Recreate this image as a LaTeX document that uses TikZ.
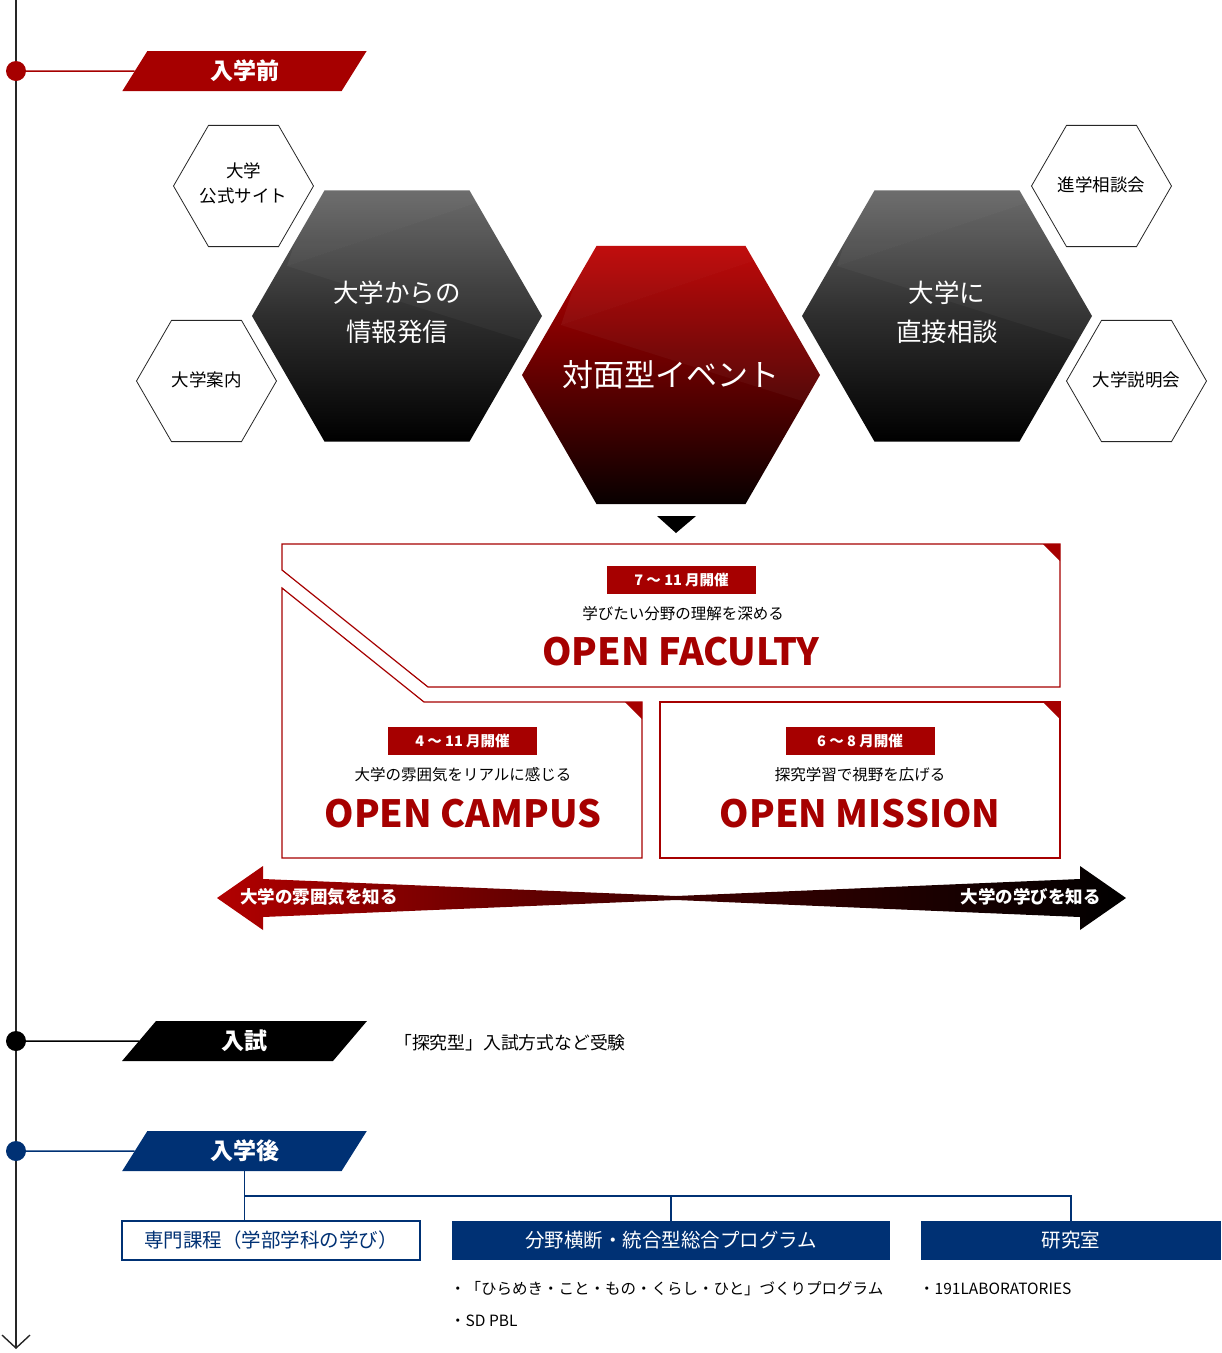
\documentclass[tikz,border=0pt]{standalone}
\usepackage{fontspec}
\setmainfont{Noto Sans CJK JP}
\usetikzlibrary{positioning, shapes.geometric, arrows.meta, calc}
\definecolor{kured}{RGB}{166,0,0}
\definecolor{hexred}{RGB}{190,0,0}
\definecolor{konavy}{RGB}{0,49,116}
\definecolor{arrowred}{RGB}{178,0,0}

\begin{document}
\begin{tikzpicture}[x=1pt, y=-1pt, >={Straight Barb[length=13pt,width=28pt,line width=1.4pt]},
  smallhex/.style={regular polygon, regular polygon sides=6, minimum size=140pt, inner sep=0pt, draw=black!85, line width=.8pt, fill=white},
  smalltext/.style={inner sep=0pt, align=center, font=\fontsize{17.5}{25}\selectfont},
  bighex/.style={regular polygon, regular polygon sides=6, minimum size=290pt, inner sep=0pt, top color=black!60, bottom color=black, middle color=black!82},
  redhex/.style={minimum size=298pt, top color=hexred, bottom color=black!96!hexred, middle color=hexred!52!black},
  hextext/.style={inner sep=0pt, text=white, align=center, font=\fontsize{25.5}{39}\selectfont},
  banner/.style={trapezium, trapezium left angle=68, trapezium right angle=112, trapezium stretches=true, minimum width=245pt, minimum height=40pt, inner sep=0pt, text=white, font=\fontsize{23}{23}\selectfont\bfseries},
  dot/.style={circle, minimum size=20pt, inner sep=0pt},
  badge/.style={fill=kured, text=white, minimum width=149pt, minimum height=28pt, inner sep=0pt, font=\fontsize{14.5}{14.5}\selectfont\bfseries},
  lead/.style={inner sep=0pt, font=\fontsize{15.5}{15.5}\selectfont},
  opentitle/.style={inner sep=0pt, text=kured, font=\fontsize{37.5}{37.5}\selectfont\bfseries},
  openline/.style={draw=kured, line width=1.2pt, fill=white},
  arrowtext/.style={inner sep=0pt, text=white, font=\fontsize{17.5}{17.5}\selectfont\bfseries},
  navybox/.style={fill=konavy, text=white, minimum height=39pt, inner sep=0pt, font=\fontsize{19.5}{19.5}\selectfont},
  navyline/.style={draw=konavy, line width=1.1pt},
  bullet/.style={inner sep=0pt, anchor=west, font=\fontsize{15.5}{15.5}\selectfont},
]
\useasboundingbox (0,0) rectangle (1222,1353);

% timeline
\coordinate (ttop) at (16,0);
\coordinate (tend) at (16,1349);
\draw[->, line width=1.6pt, black!85] (ttop) -- (tend);

\node[dot, fill=kured] (dpre) at (16,71) {};
\node[dot, fill=black] (dexam) at (16,1041) {};
\node[dot, fill=konavy] (dpost) at (16,1151) {};

\node[banner, fill=kured] (pre) at (244.5,71) {入学前};
\node[banner, fill=black] (exam) at (244.5,1041) {入試};
\node[banner, fill=konavy] (post) at (244.5,1151) {入学後};

\draw[kured, line width=1.5pt] (dpre) -- (pre.west);
\draw[black, line width=1.5pt] (dexam) -- (exam.west);
\draw[konavy, line width=1.5pt] (dpost) -- (post.west);

% hexagons
\node[smallhex] (site) at (243.5,186) {};
\node[smallhex] (guide) at (206.5,381) {};
\node[smallhex] (consult) at (1101.5,186) {};
\node[smallhex] (briefing) at (1136.5,381) {};
\node[smalltext] (sitetext) at ([yshift=3pt]site.center) {大学\\公式サイト};
\node[smalltext] (guidetext) at ([yshift=1pt]guide.center) {大学案内};
\node[smalltext] (consulttext) at ([yshift=1pt]consult.center) {進学相談会};
\node[smalltext] (briefingtext) at ([yshift=1pt]briefing.center) {大学説明会};

\node[bighex] (info) at (397,316) {};
\node[bighex] (direct) at (947,316) {};
\node[bighex, redhex] (event) at (671,375) {};

\foreach \h in {info, direct, event}{
  \begin{scope}[shift={(\h.center)}]
    \clip (\h.corner 1) -- (\h.corner 2) -- (\h.corner 3) -- (\h.corner 4) -- (\h.corner 5) -- (\h.corner 6) -- cycle;
    \fill[white, opacity=.05] (-110,-50) -- (160,-140) -- (160,-200) -- (-60,-200) -- cycle;
    \fill[white, opacity=.035] (-110,-50) -- (160,35) -- (160,-140) -- cycle;
  \end{scope}
}

\node[hextext] (infotext) at ([yshift=4pt]info.center) {大学からの\\情報発信};
\node[hextext] (directtext) at ([yshift=4pt]direct.center) {大学に\\直接相談};
\node[hextext, font=\fontsize{31}{31}\selectfont] (eventtext) at (event.center) {対面型イベント};

\coordinate (tri) at (676,516);
\fill[black] (657,516) -- (696,516) -- (676,533) -- cycle;

% open events
\draw[openline] (282,544) -- (1060,544) -- (1060,687) -- (428,687) -- (282,570) -- cycle;
\fill[kured] (1043,544) -- (1060,544) -- (1060,561) -- cycle;
\draw[openline] (282,588) -- (424,702) -- (642,702) -- (642,858) -- (282,858) -- cycle;
\fill[kured] (625,702) -- (642,702) -- (642,719) -- cycle;
\draw[openline] (660,702) rectangle (1060,858);
\fill[kured] (1043,702) -- (1060,702) -- (1060,719) -- cycle;

\node[badge] (facdate) at (681.5,580) {7 ～ 11 月開催};
\node[lead] (faclead) at (683,614) {学びたい分野の理解を深める};
\node[opentitle] (factitle) at (681,652) {OPEN FACULTY};

\node[badge] (campdate) at (462.5,741) {4 ～ 11 月開催};
\node[lead] (camplead) at (463,775) {大学の雰囲気をリアルに感じる};
\node[opentitle] (camptitle) at (463,814) {OPEN CAMPUS};

\node[badge] (missdate) at (860,741) {6 ～ 8 月開催};
\node[lead] (misslead) at (860,775) {探究学習で視野を広げる};
\node[opentitle] (misstitle) at (860,814) {OPEN MISSION};

% double arrow
\shade[left color=arrowred, right color=black, middle color=arrowred!35!black]
  (217,898) -- (263,866) -- (263,879) -- (676,896) -- (1080,879) -- (1080,866) -- (1126,898)
  -- (1080,930) -- (1080,917) -- (676,900) -- (263,917) -- (263,930) -- cycle;
\node[arrowtext, anchor=west] (feel) at (240,897) {大学の雰囲気を知る};
\node[arrowtext, anchor=east] (learn) at (1101,897) {大学の学びを知る};

\node[bullet, font=\fontsize{17.8}{17.8}\selectfont] (examtext) at (394,1043) {「探究型」入試方式など受験};

% after entrance
\node[navybox, fill=white, draw=konavy, line width=1.1pt, text=konavy, minimum width=298pt] (senmon) at (271,1240.5) {専門課程（学部学科の学び）};
\node[navybox, minimum width=438pt] (bunya) at (671,1240.5) {分野横断・統合型総合プログラム};
\node[navybox, minimum width=300pt] (lab) at (1071,1240.5) {研究室};

\coordinate (ybranch) at (0,1196);
\coordinate (branch) at (post.south |- ybranch);
\draw[navyline] (post.south) -- (post.south |- senmon.north);
\draw[navyline] (branch) -| (bunya.north);
\draw[navyline] (branch) -| (lab.north);

\node[bullet] (hirameki) at (450,1289) {・「ひらめき・こと・もの・くらし・ひと」づくりプログラム};
\node[bullet] (sdpbl) at (450,1321) {・SD PBL};
\node[bullet] (labs) at (919,1289) {・191LABORATORIES};

\end{tikzpicture}
\end{document}
